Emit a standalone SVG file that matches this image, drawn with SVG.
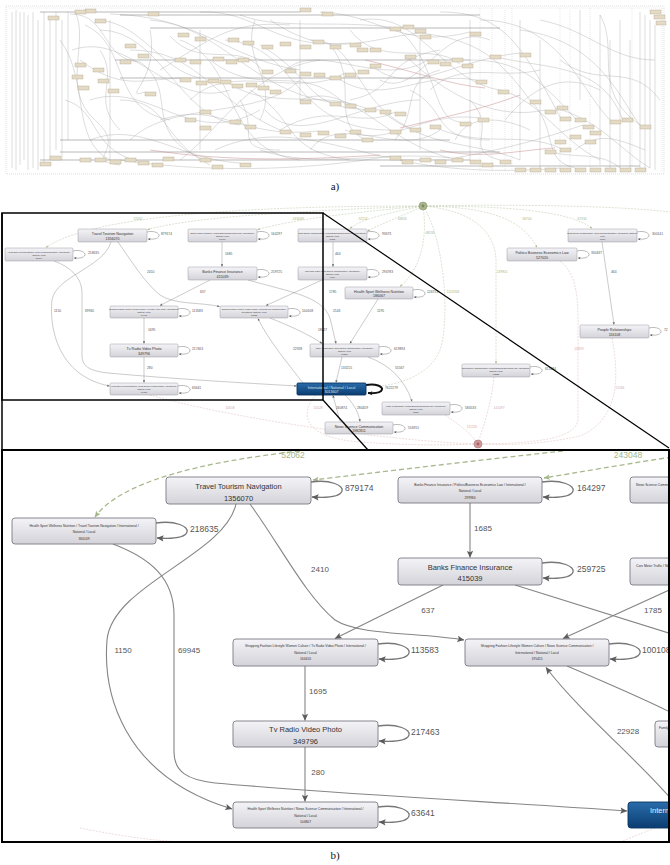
<svg xmlns="http://www.w3.org/2000/svg" width="670" height="865" viewBox="0 0 670 865">
<defs>
<linearGradient id="gNode" x1="0" y1="0" x2="0" y2="1"><stop offset="0" stop-color="#f4f3f7"/><stop offset="1" stop-color="#d4d3d9"/></linearGradient>
<linearGradient id="gBlue" x1="0" y1="0" x2="0" y2="1"><stop offset="0" stop-color="#2a6cab"/><stop offset="1" stop-color="#0b3d71"/></linearGradient>
<marker id="ah" viewBox="0 0 10 10" refX="9.5" refY="5" markerWidth="8" markerHeight="7" markerUnits="userSpaceOnUse" orient="auto"><path d="M0,0.5 L10,5 L0,9.5 L2,5 z" fill="#5c5c5c"/></marker>
<marker id="ahs" viewBox="0 0 10 10" refX="9.5" refY="5" markerWidth="3" markerHeight="2.6" markerUnits="userSpaceOnUse" orient="auto"><path d="M0,0.5 L10,5 L0,9.5 L2,5 z" fill="#5c5c5c"/></marker>
<marker id="ahk" viewBox="0 0 10 10" refX="9.5" refY="5" markerWidth="5" markerHeight="4.5" markerUnits="userSpaceOnUse" orient="auto"><path d="M0,0.5 L10,5 L0,9.5 L2,5 z" fill="#111"/></marker>
<marker id="ahg" viewBox="0 0 10 10" refX="9.5" refY="5" markerWidth="7" markerHeight="6" markerUnits="userSpaceOnUse" orient="auto"><path d="M0,0.5 L10,5 L0,9.5 L2,5 z" fill="#a3b586"/></marker>
<marker id="ahgs" viewBox="0 0 10 10" refX="9.5" refY="5" markerWidth="3" markerHeight="2.6" markerUnits="userSpaceOnUse" orient="auto"><path d="M0,0.5 L10,5 L0,9.5 L2,5 z" fill="#a3b586"/></marker>
<clipPath id="clipB"><rect x="3" y="451" width="666" height="390"/></clipPath>
<style>
.ae{fill:none;stroke:#a8a8a8;stroke-width:.4}
.av{fill:none;stroke:#c4c4c4;stroke-width:.4;stroke-dasharray:1 1}
.ak{fill:none;stroke:#8c8c8c;stroke-width:.6}
.ar{fill:none;stroke:#c98c8c;stroke-width:.5}
.an{fill:#e4dbc6;stroke:#ab9f82;stroke-width:.35}
.n{fill:url(#gNode);stroke:#7c7c84;stroke-width:.9}
.ns{fill:url(#gNode);stroke:#85858d;stroke-width:.4}
.nb{fill:url(#gBlue);stroke:#0a3461;stroke-width:.9}
.e{fill:none;stroke:#858585;stroke-width:1.1}
.es{fill:none;stroke:#8a8a8a;stroke-width:.45}
.lp{fill:none;stroke:#777;stroke-width:1.3}
.lps{fill:none;stroke:#777;stroke-width:.5}
.d{fill:none;stroke:#a8b98e;stroke-width:1.3;stroke-dasharray:5 3}
.ds{fill:none;stroke:#b7c5a2;stroke-width:.5;stroke-dasharray:2 1.2}
.dp{fill:none;stroke:#ddb9b9;stroke-width:.5;stroke-dasharray:2 1.2}
.t{font-family:"Liberation Sans",Arial,sans-serif;fill:#333;text-anchor:middle}
.tl{font-family:"Liberation Sans",Arial,sans-serif;fill:#555}
.tg{font-family:"Liberation Sans",Arial,sans-serif;fill:#a5b68a;text-anchor:middle}
.tp{font-family:"Liberation Sans",Arial,sans-serif;fill:#d5a9a9;text-anchor:middle}
.cap{font-family:"Liberation Serif","Times New Roman",serif;font-size:11px;fill:#111;text-anchor:middle}
.frame{fill:none;stroke:#000}
</style>
</defs>
<rect width="670" height="865" fill="#fff"/>

<!-- ===== Panel a) full graph ===== -->
<g id="panel-a">
<rect x="6" y="6" width="658" height="168" fill="none" stroke="#c8c8c8" stroke-width="0.6" stroke-dasharray="1 1"/>
<g id="a-edges">
<path class="av" d="M480,8 V172 M492,8 V172 M505,10 V172 M512,8 V170 M560,8 V172 M570,10 V170 M590,8 V172 M632,8 V172 M662,8 V172 M9,8 H662"/>
<path class="ae" d="M12,12 V168 M16,10 V170 M20,12 V165 M24,12 V160 M28,15 V170 M33,12 V168 M38,20 V170 M44,12 V165 M50,18 V160 M56,12 V150 M62,20 V160 M68,12 V140 M110,20 V160 M200,30 V150 M300,20 V100 M420,40 V150 M470,20 V160 M520,20 V160 M540,40 V170 M580,10 V100 M610,40 V170 M600,15 V165 M620,20 V168 M630,40 V170 M640,12 V170 M645,15 V170 M650,20 V168 M655,25 V170"/>
<path class="ae" d="M70,14 C110,14 100,60 140,62 M75,12 C90,40 60,90 95,120 S80,160 120,165 M95,20 C140,20 160,70 200,78 M100,30 C160,30 180,120 240,125 M110,14 C200,16 230,60 300,70 M130,50 C200,50 210,100 280,130 M140,62 C180,90 140,130 200,158 M150,20 C220,25 250,90 330,102 M170,36 C200,70 240,40 262,70 M180,40 C240,60 220,150 300,160 M200,12 C260,10 270,50 350,43 M210,60 C260,100 300,60 345,104 M225,40 C300,45 290,130 390,130 M240,15 C280,30 330,20 390,27 M250,90 C300,120 280,150 350,160 M260,45 C320,80 300,110 380,110 M270,20 C330,60 360,40 420,33 M285,70 C320,40 380,90 428,60 M300,100 C350,80 380,140 450,158 M310,40 C360,40 350,100 410,128 M320,12 C380,14 400,50 470,32 M335,76 C380,110 420,70 476,80 M345,130 C390,150 420,110 480,118 M360,20 C420,10 440,80 500,90 M370,64 C410,100 450,60 520,53 M380,110 C430,150 470,140 520,160 M395,27 C440,60 430,120 460,122 M405,55 C450,100 500,120 545,110 M420,33 C480,40 500,60 530,100 M430,125 C480,150 520,130 560,148 M440,12 C500,12 520,40 560,117 M455,158 C500,150 540,140 583,125 M470,60 C520,60 540,80 575,118 M480,20 C560,20 580,90 610,120 M490,55 C540,70 600,60 622,118 M500,90 C540,100 560,140 600,160 M520,30 C600,40 620,100 640,125 M530,100 C560,130 540,160 575,168 M545,150 C570,160 600,150 620,168 M555,108 C600,120 620,150 650,168 M60,40 C90,80 70,140 110,160 M65,100 C100,110 90,150 138,161 M80,60 C120,90 140,80 180,78 M90,140 C140,120 180,160 240,163 M120,100 C170,100 160,140 210,165 M160,120 C220,100 240,140 318,131 M190,100 C230,60 300,100 345,73 M215,150 C280,120 340,150 402,160 M260,150 C320,170 380,150 452,158 M230,84 C270,110 320,90 365,108 M280,130 C330,100 360,130 395,112 M120,160 C200,172 300,172 390,156 M150,30 C160,80 120,100 145,92 M330,45 C360,80 330,120 362,138 M400,160 C450,172 520,172 560,168 M600,15 C620,50 590,90 640,125 M560,60 C600,90 630,60 660,100 M470,100 C500,130 460,150 500,160 M85,25 C130,45 110,110 170,120 M240,100 C260,130 230,150 280,150 M350,100 C400,90 380,60 440,50 M410,90 C450,110 430,140 490,140 M160,70 C210,40 230,20 290,25 M540,20 C590,30 610,60 655,60 M72,50 C130,30 170,110 230,90 M90,100 C150,80 190,150 260,110 M130,140 C170,100 260,120 300,80 M180,160 C220,130 250,70 320,60 M265,110 C300,150 360,100 420,100 M310,150 C340,110 400,160 440,130 M350,30 C380,70 430,40 460,64 M380,80 C420,100 440,20 490,40 M430,90 C460,60 500,80 540,70 M455,140 C470,110 510,120 530,130 M100,50 C120,80 90,100 120,130 M255,20 C240,60 280,80 260,120 M395,140 C420,110 400,80 440,70 M505,120 C530,90 560,70 600,90 M575,150 C600,130 620,140 645,150"/>
<path class="ak" d="M40,12 H300 M120,15 H480 M150,28 H500 M115,60 H470 M120,78 H430 M60,140 H450 M60,152 H500 M40,160 H470 M380,166 H640"/>
<path class="ar" d="M365,60 C410,70 450,85 485,88 M400,128 C440,118 480,110 520,95 M150,150 C230,162 300,160 380,155 M440,150 C480,160 520,150 555,148"/>
</g>
<g id="a-nodes" class="an">
<rect x="85" y="9" width="11" height="4"/><rect x="148" y="12" width="11" height="4"/><rect x="300" y="8" width="11" height="4"/><rect x="322" y="12" width="11" height="4"/><rect x="75" y="10" width="11" height="4"/><rect x="48" y="16" width="11" height="4"/><rect x="95" y="19" width="11" height="4"/><rect x="120" y="60" width="11" height="4"/><rect x="75" y="63" width="11" height="4"/><rect x="72" y="75" width="11" height="4"/><rect x="78" y="86" width="11" height="4"/>
<rect x="125" y="44" width="11" height="4"/><rect x="138" y="54" width="11" height="4"/><rect x="175" y="58" width="11" height="4"/><rect x="190" y="60" width="11" height="4"/><rect x="213" y="57" width="11" height="4"/><rect x="226" y="60" width="11" height="4"/><rect x="238" y="58" width="11" height="4"/><rect x="178" y="33" width="11" height="4"/><rect x="195" y="37" width="11" height="4"/><rect x="228" y="38" width="11" height="4"/><rect x="243" y="41" width="11" height="4"/>
<rect x="262" y="45" width="11" height="4"/><rect x="280" y="42" width="11" height="4"/><rect x="300" y="45" width="11" height="4"/><rect x="313" y="40" width="11" height="4"/><rect x="330" y="45" width="11" height="4"/><rect x="350" y="43" width="11" height="4"/><rect x="357" y="48" width="11" height="4"/><rect x="370" y="48" width="11" height="4"/><rect x="390" y="27" width="11" height="4"/><rect x="403" y="25" width="11" height="4"/><rect x="415" y="29" width="11" height="4"/><rect x="420" y="35" width="11" height="4"/><rect x="470" y="32" width="11" height="4"/><rect x="490" y="55" width="11" height="4"/><rect x="520" y="53" width="11" height="4"/>
<rect x="93" y="68" width="11" height="4"/><rect x="98" y="79" width="11" height="4"/><rect x="108" y="89" width="11" height="4"/><rect x="145" y="92" width="11" height="4"/><rect x="180" y="78" width="11" height="4"/><rect x="196" y="81" width="11" height="4"/><rect x="208" y="79" width="11" height="4"/><rect x="220" y="80" width="11" height="4"/><rect x="232" y="84" width="11" height="4"/><rect x="246" y="83" width="11" height="4"/><rect x="258" y="86" width="11" height="4"/><rect x="270" y="90" width="11" height="4"/>
<rect x="262" y="70" width="11" height="4"/><rect x="285" y="69" width="11" height="4"/><rect x="300" y="72" width="11" height="4"/><rect x="314" y="73" width="11" height="4"/><rect x="330" y="76" width="11" height="4"/><rect x="345" y="73" width="11" height="4"/><rect x="358" y="70" width="11" height="4"/><rect x="370" y="64" width="11" height="4"/><rect x="405" y="55" width="11" height="4"/><rect x="428" y="60" width="11" height="4"/><rect x="440" y="62" width="11" height="4"/><rect x="452" y="58" width="11" height="4"/><rect x="462" y="64" width="11" height="4"/><rect x="476" y="80" width="11" height="4"/><rect x="498" y="90" width="11" height="4"/>
<rect x="300" y="100" width="11" height="4"/><rect x="330" y="102" width="11" height="4"/><rect x="345" y="104" width="11" height="4"/><rect x="365" y="108" width="11" height="4"/><rect x="380" y="110" width="11" height="4"/><rect x="395" y="112" width="11" height="4"/><rect x="200" y="110" width="11" height="4"/><rect x="185" y="118" width="11" height="4"/><rect x="200" y="126" width="11" height="4"/><rect x="230" y="120" width="11" height="4"/><rect x="245" y="125" width="11" height="4"/>
<rect x="280" y="130" width="11" height="4"/><rect x="300" y="133" width="11" height="4"/><rect x="318" y="131" width="11" height="4"/><rect x="335" y="134" width="11" height="4"/><rect x="350" y="130" width="11" height="4"/><rect x="362" y="138" width="11" height="4"/><rect x="390" y="130" width="11" height="4"/><rect x="410" y="128" width="11" height="4"/><rect x="430" y="125" width="11" height="4"/><rect x="460" y="122" width="11" height="4"/><rect x="478" y="118" width="11" height="4"/>
<rect x="530" y="100" width="11" height="4"/><rect x="545" y="110" width="11" height="4"/><rect x="557" y="106" width="11" height="4"/><rect x="560" y="117" width="11" height="4"/><rect x="575" y="118" width="11" height="4"/><rect x="583" y="125" width="11" height="4"/><rect x="590" y="131" width="11" height="4"/><rect x="570" y="135" width="11" height="4"/><rect x="555" y="140" width="11" height="4"/><rect x="545" y="150" width="11" height="4"/><rect x="560" y="148" width="11" height="4"/><rect x="585" y="140" width="11" height="4"/><rect x="610" y="120" width="11" height="4"/><rect x="622" y="118" width="11" height="4"/><rect x="640" y="125" width="11" height="4"/>
<rect x="50" y="156" width="11" height="4"/><rect x="40" y="162" width="11" height="4"/><rect x="80" y="158" width="11" height="4"/><rect x="95" y="158" width="11" height="4"/><rect x="110" y="160" width="11" height="4"/><rect x="125" y="158" width="11" height="4"/><rect x="138" y="161" width="11" height="4"/><rect x="152" y="163" width="11" height="4"/><rect x="163" y="157" width="11" height="4"/><rect x="200" y="158" width="11" height="4"/><rect x="212" y="165" width="11" height="4"/><rect x="240" y="163" width="11" height="4"/>
<rect x="390" y="156" width="11" height="4"/><rect x="402" y="160" width="11" height="4"/><rect x="420" y="158" width="11" height="4"/><rect x="435" y="160" width="11" height="4"/><rect x="452" y="158" width="11" height="4"/><rect x="470" y="160" width="11" height="4"/><rect x="482" y="163" width="11" height="4"/><rect x="500" y="160" width="11" height="4"/><rect x="515" y="168" width="11" height="4"/><rect x="530" y="168" width="11" height="4"/><rect x="545" y="168" width="11" height="4"/><rect x="560" y="168" width="11" height="4"/><rect x="575" y="168" width="11" height="4"/><rect x="590" y="168" width="11" height="4"/><rect x="605" y="168" width="11" height="4"/><rect x="620" y="168" width="11" height="4"/><rect x="635" y="168" width="11" height="4"/><rect x="650" y="10" width="11" height="4"/><rect x="654" y="15" width="11" height="4"/><rect x="656" y="21" width="10" height="4"/>
</g>
</g>
<text class="cap" x="335" y="190">a)</text>

<!-- ===== Middle overview ===== -->
<g id="overview">
<g id="ov-connectors">
<path class="ds" marker-end="url(#ahgs)" d="M423,206 C300,206 100,210 46,247.5"/>
<path class="ds" marker-end="url(#ahgs)" d="M423,206 C330,210 200,215 147.5,229.5"/>
<path class="ds" marker-end="url(#ahgs)" d="M423,206 C360,212 300,218 257.5,229.5"/>
<path class="ds" marker-end="url(#ahgs)" d="M423,206 C395,212 362,218 350,228.5"/>
<path class="ds" marker-end="url(#ahgs)" d="M423,206 C405,215 385,222 367.5,231"/>
<path class="ds" marker-end="url(#ahgs)" d="M423,206 C428,240 420,270 400,286.5"/>
<path class="ds" d="M423,206 C445,240 450,320 440,350 C430,375 400,384 380,386"/>
<path class="ds" marker-end="url(#ahgs)" d="M423,206 C470,210 495,230 496,260 L496,363.5"/>
<path class="ds" marker-end="url(#ahgs)" d="M423,206 C480,207 520,215 537,247.5"/>
<path class="ds" marker-end="url(#ahgs)" d="M423,206 C500,206 570,210 592,228.5"/>
<path class="ds" d="M423,206 C520,204 620,206 670,212"/>
<path class="dp" d="M150,395 C230,418 380,440 475,444"/>
<path class="dp" d="M316,395 C298,415 305,438 360,442 C420,446 450,445 475,444"/>
<path class="dp" d="M494,377 C492,400 484,425 479,440"/>
<path class="dp" d="M445,415 C460,425 470,433 476,441"/>
<path class="dp" d="M560,261 C574,272 578,290 578,320 L578,418 C578,438 540,443 482,444"/>
<path class="dp" d="M612,338 C620,380 618,420 580,436 C540,445 505,445 482,444"/>
<path class="es" marker-end="url(#ahs)" d="M222,242 V266.5"/>
<path class="es" marker-end="url(#ahs)" d="M333,242 V266.5"/>
<path class="es" marker-end="url(#ahs)" d="M602,242 L614,324.5"/>
<path class="es" marker-end="url(#ahs)" d="M210,280 L160,305.5"/>
<path class="es" marker-end="url(#ahs)" d="M322,280 L266,305.5"/>
<path class="es" marker-end="url(#ahs)" d="M248,280 C290,292 322,296 330,318 L336,343.5"/>
<path class="es" marker-end="url(#ahs)" d="M378,299 L350,343.5"/>
<path class="es" marker-end="url(#ahs)" d="M118,242 C132,262 145,283 160,295 C175,305 200,302 219.5,306.5"/>
<path class="es" marker-end="url(#ahs)" d="M111,242 C103,268 56,276 52,300 C49,328 58,376 109.5,386"/>
<path class="es" marker-end="url(#ahs)" d="M54,261 C68,266 82,276 82,293 L82,355 C82,368 92,371 108,373 C175,379 245,383 296.5,386"/>
<path class="es" marker-end="url(#ahs)" d="M144,318 V343.5"/>
<path class="es" marker-end="url(#ahs)" d="M144,357 V382.5"/>
<path class="es" marker-end="url(#ahs)" d="M303,383 C290,366 268,340 258,318.5"/>
<path class="es" marker-end="url(#ahs)" d="M270,318 C290,326 310,335 322,343.5"/>
<path class="es" marker-end="url(#ahs)" d="M342,357 L336,382.5"/>
<path class="es" marker-end="url(#ahs)" d="M368,357 C390,365 405,380 412,401.5"/>
<path class="es" marker-end="url(#ahs)" d="M340,421.5 L333,395.5"/>
<path class="es" marker-end="url(#ahs)" d="M345,395 C352,402 358,410 360,421.5"/>
<path class="lps" marker-end="url(#ahs)" d="M73,251 C81,249 86,253 85,255 C84,258 79,258.5 74,258"/>
<path class="lps" marker-end="url(#ahs)" d="M147,232 C155,230 160,234 159,236 C158,239 153,239.5 148,239"/>
<path class="lps" marker-end="url(#ahs)" d="M257,232 C265,230 270,234 269,236 C268,239 263,239.5 258,239"/>
<path class="lps" marker-end="url(#ahs)" d="M367,232 C375,230 380,234 379,236 C378,239 373,239.5 368,239"/>
<path class="lps" marker-end="url(#ahs)" d="M257,270 C265,268 270,272 269,274 C268,277 263,277.5 258,277"/>
<path class="lps" marker-end="url(#ahs)" d="M367,270 C375,268 380,272 379,274 C378,277 373,277.5 368,277"/>
<path class="lps" marker-end="url(#ahs)" d="M413,290 C421,288 426,292 425,294 C424,297 419,297.5 414,297"/>
<path class="lps" marker-end="url(#ahs)" d="M178,309 C186,307 191,311 190,313 C189,316 184,316.5 179,316"/>
<path class="lps" marker-end="url(#ahs)" d="M288,309 C296,307 301,311 300,313 C299,316 294,316.5 289,316"/>
<path class="lps" marker-end="url(#ahs)" d="M178,347 C186,345 191,349 190,351 C189,354 184,354.5 179,354"/>
<path class="lps" marker-end="url(#ahs)" d="M178,386 C186,384 191,388 190,390 C189,393 184,393.5 179,393"/>
<path class="lps" marker-end="url(#ahs)" d="M379,347 C387,345 392,349 391,351 C390,354 385,354.5 380,354"/>
<path class="lps" marker-end="url(#ahs)" d="M450,405 C458,403 463,407 462,409 C461,412 456,412.5 451,412"/>
<path class="lps" marker-end="url(#ahs)" d="M577,251 C585,249 590,253 589,255 C588,258 583,258.5 578,258"/>
<path class="lps" marker-end="url(#ahs)" d="M637,232 C645,230 650,234 649,236 C648,239 643,239.5 638,239"/>
<path class="lps" marker-end="url(#ahs)" d="M649,328 C657,326 662,330 661,332 C660,335 655,335.5 650,335"/>
<path class="lps" marker-end="url(#ahs)" d="M530,367 C538,365 543,369 542,371 C541,374 536,374.5 531,374"/>
<path class="lps" marker-end="url(#ahs)" d="M393,425 C401,423 406,427 405,429 C404,432 399,432.5 394,432"/>
<path fill="none" stroke="#111" stroke-width="2" marker-end="url(#ahk)" d="M366,385 C376,383 383,387 382,389.5 C381,393 375,393.5 368,393"/>
<g class="tl" font-size="3.3">
<text x="225" y="254.5">1685</text><text x="335" y="254.5">464</text><text x="611" y="273">464</text>
<text x="200" y="293">637</text><text x="329" y="293">1785</text><text x="333" y="312">2543</text><text x="377" y="312">1195</text>
<text x="147" y="273">2410</text><text x="54" y="312">1150</text><text x="85" y="312">69945</text>
<text x="148" y="331">1695</text><text x="147" y="369">280</text><text x="293" y="350">22928</text><text x="318" y="331">18027</text>
<text x="341" y="369">133215</text><text x="395" y="369">55567</text><text x="336" y="409">260874</text><text x="357" y="409">284459</text>
<text x="88" y="254">218635</text><text x="161" y="235">879174</text><text x="271" y="235">164297</text><text x="382" y="235">93673</text>
<text x="271" y="273">259725</text><text x="382" y="273">294783</text><text x="427" y="293">126713</text>
<text x="192" y="312">113583</text><text x="302" y="312">100108</text><text x="192" y="350">217463</text><text x="192" y="389">63641</text>
<text x="394" y="350">619894</text><text x="465" y="409">584533</text><text x="591" y="254">330437</text><text x="652" y="235">300141</text>
<text x="664" y="331">72</text><text x="545" y="370">613284</text><text x="408" y="429">556915</text>
<text x="385" y="389">7622279</text>
</g>
<g class="tg" font-size="3.3">
<text x="138" y="219.5">52062</text><text x="298" y="219.5">243048</text><text x="363" y="219.5">52214</text><text x="402" y="219.5">10826</text>
<text x="430" y="234">48192</text><text x="453" y="293">1113318</text><text x="502" y="273">139901</text><text x="527" y="219.5">66700</text><text x="582" y="219.5">67334</text>
</g>
<g class="tp" font-size="3.3">
<text x="230" y="409">10618</text><text x="318" y="409">10528</text><text x="499" y="409">141097</text><text x="472" y="428">111135</text>
<text x="579" y="350">05859</text><text x="620" y="389">21184</text>
</g>
</g>
<g id="ov-nodes">
<g id="ov-root"><circle cx="423" cy="206" r="4" fill="#a9b48c" stroke="#8c9872" stroke-width=".6"/><circle cx="423" cy="206" r="1.4" fill="#7f8a64"/></g>
<g id="ov-sink"><circle cx="478" cy="444" r="4" fill="#cf9a9a" stroke="#b27474" stroke-width=".6"/><circle cx="478" cy="444" r="1.4" fill="#a86464"/></g>
<g id="ov-n1"><rect class="ns" x="5" y="248" width="68" height="13" rx="1.2"/><g class="t" font-size="1.9"><text x="39" y="252.5">Health Sport Wellness Nutrition / Travel Tourism Navigation / International /</text><text x="39" y="255.5">National / Local</text><text x="39" y="258.5">366149</text></g></g>
<g id="ov-n2"><rect class="ns" x="78" y="229" width="69" height="13" rx="1.2"/><g class="t" font-size="3.6"><text x="112.5" y="235">Travel Tourism Navigation</text><text x="112.5" y="239.5">1356070</text></g></g>
<g id="ov-n3"><rect class="ns" x="188" y="229" width="69" height="13" rx="1.2"/><g class="t" font-size="1.9"><text x="222.5" y="233.5">Banks Finance Insurance / Politics Business Economics Law / International /</text><text x="222.5" y="236.5">National / Local</text><text x="222.5" y="239.5">299984</text></g></g>
<g id="ov-n4"><rect class="ns" x="298" y="229" width="69" height="13" rx="1.2"/><g class="t" font-size="1.9"><text x="332.5" y="233.5">News Science Communication / Politics Business Economics Law / International /</text><text x="332.5" y="236.5">National / Local</text><text x="332.5" y="239.5">86865</text></g></g>
<g id="ov-n5"><rect class="ns" x="188" y="267" width="69" height="13" rx="1.2"/><g class="t" font-size="3.6"><text x="222.5" y="273">Banks Finance Insurance</text><text x="222.5" y="277.5">415039</text></g></g>
<g id="ov-n6"><rect class="ns" x="298" y="267" width="69" height="13" rx="1.2"/><g class="t" font-size="1.9"><text x="332.5" y="271.5">Cars Motor Traffic / News Science Communication / International /</text><text x="332.5" y="274.5">National / Local</text><text x="332.5" y="277.5">66104</text></g></g>
<g id="ov-n7"><rect class="ns" x="345" y="287" width="68" height="12" rx="1.2"/><g class="t" font-size="3.6"><text x="379" y="292.5">Health Sport Wellness Nutrition</text><text x="379" y="297">186067</text></g></g>
<g id="ov-n8"><rect class="ns" x="110" y="306" width="68" height="12" rx="1.2"/><g class="t" font-size="1.9"><text x="144" y="310">Shopping Fashion Lifestyle Women Culture / Tv Radio Video Photo / International /</text><text x="144" y="313">National / Local</text><text x="144" y="316">164416</text></g></g>
<g id="ov-n9"><rect class="ns" x="220" y="306" width="68" height="12" rx="1.2"/><g class="t" font-size="1.9"><text x="254" y="310">Shopping Fashion Lifestyle Women Culture / News Science Communication /</text><text x="254" y="313">International / National / Local</text><text x="254" y="316">195455</text></g></g>
<g id="ov-n10"><rect class="ns" x="110" y="344" width="68" height="13" rx="1.2"/><g class="t" font-size="3.6"><text x="144" y="350">Tv Radio Video Photo</text><text x="144" y="354.5">349796</text></g></g>
<g id="ov-n11"><rect class="ns" x="110" y="383" width="68" height="12" rx="1.2"/><g class="t" font-size="1.9"><text x="144" y="387">Health Sport Wellness Nutrition / News Science Communication / International /</text><text x="144" y="390">National / Local</text><text x="144" y="393">104807</text></g></g>
<g id="ov-n12"><rect class="nb" x="297" y="383" width="69" height="12" rx="1.2" stroke-width=".4"/><g class="t" font-size="3.6"><text x="331.5" y="388.5" fill="#dbe6f2">International / National / Local</text><text x="331.5" y="393" fill="#dbe6f2">3013607</text></g></g>
<g id="ov-n13"><rect class="ns" x="310" y="344" width="69" height="13" rx="1.2"/><g class="t" font-size="1.9"><text x="344.5" y="348.5">Family Relationships / News Science Communication / International /</text><text x="344.5" y="351.5">National / Local</text><text x="344.5" y="354.5">843151</text></g></g>
<g id="ov-n14"><rect class="ns" x="382" y="402" width="68" height="13" rx="1.2"/><g class="t" font-size="1.9"><text x="416" y="406.5">Family Relationships / Politics Business Economics Law / International /</text><text x="416" y="409.5">National / Local</text><text x="416" y="412.5">88180</text></g></g>
<g id="ov-n15"><rect class="ns" x="507" y="248" width="70" height="13" rx="1.2"/><g class="t" font-size="3.6"><text x="542" y="254">Politics Business Economics Law</text><text x="542" y="258.5">527020</text></g></g>
<g id="ov-n16"><rect class="ns" x="568" y="229" width="69" height="13" rx="1.2"/><g class="t" font-size="1.9"><text x="602.5" y="233.5">News Science Communication / Travel Tourism Navigation / International / National /</text><text x="602.5" y="236.5">Local</text><text x="602.5" y="239.5">16171</text></g></g>
<g id="ov-n17"><rect class="ns" x="580" y="325" width="69" height="13" rx="1.2"/><g class="t" font-size="3.6"><text x="614.5" y="331">People Relationships</text><text x="614.5" y="335.5">116108</text></g></g>
<g id="ov-n18"><rect class="ns" x="462" y="364" width="68" height="13" rx="1.2"/><g class="t" font-size="1.9"><text x="496" y="368.5">News Science Communication / Politics Business Economics Law / International /</text><text x="496" y="371.5">National / Local</text><text x="496" y="374.5">155385</text></g></g>
<g id="ov-n19"><rect class="ns" x="325" y="422" width="68" height="12" rx="1.2"/><g class="t" font-size="3.6"><text x="359" y="427.5">News Science Communication</text><text x="359" y="432">1982811</text></g></g>
</g>
</g>

<g id="frames">
<rect class="frame" x="2" y="213" width="321" height="187" stroke-width="1.5"/>
<line x1="2" y1="213" x2="2" y2="450" stroke="#000" stroke-width="1.5"/>
<line x1="323" y1="213" x2="669" y2="448" stroke="#000" stroke-width="1.2"/>
<line x1="323" y1="400" x2="368" y2="450" stroke="#000" stroke-width="1.2"/>
</g>

<!-- ===== Bottom magnified panel ===== -->
<g id="detail" clip-path="url(#clipB)">
<g id="detail-connectors">
<path class="d" marker-end="url(#ahg)" d="M300,451 C200,462 120,482 95,517"/>
<path class="d" marker-end="url(#ahg)" d="M563,451 C480,460 380,472 313,480"/>
<path class="d" marker-end="url(#ahg)" d="M672,457 C620,465 580,472 544,478"/>
<path class="e" marker-end="url(#ah)" d="M470,503 L470,557.5"/>
<path class="e" marker-end="url(#ah)" d="M443,585 L335,638.5"/>
<path class="e" d="M515,585 L672,634"/>
<path class="e" marker-end="url(#ah)" d="M680,585 L563,638.5"/>
<path class="e" marker-end="url(#ah)" d="M250,504 C280,545 305,595 335,620 C360,636 420,632 464,640"/>
<path class="e" marker-end="url(#ah)" d="M236,504 C225,555 112,585 107,640 C103,690 120,775 232,809"/>
<path class="e" marker-end="url(#ah)" d="M113,544 C150,558 174,578 174,615 L174,752 C174,772 188,780 215,783 C350,795 500,802 627,811"/>
<path class="e" marker-end="url(#ah)" d="M305,666 L305,720.5"/>
<path class="e" marker-end="url(#ah)" d="M305,747 L305,801.5"/>
<path class="e" marker-end="url(#ah)" d="M672,800 C640,762 580,712 546,667.5"/>
<path class="e" d="M567,666 C600,680 640,697 672,713"/>
<path class="dp" stroke-width="1" d="M80,828 C120,836 150,840 180,842 M620,842 C640,834 660,826 670,822"/>
<path class="lp" marker-end="url(#ah)" d="M156,523 C176,520 189,527 187,532 C185,538 172,539 157,538"/>
<path class="lp" marker-end="url(#ah)" d="M311,482 C331,479 344,486 342,491 C340,497 327,498 312,497"/>
<path class="lp" marker-end="url(#ah)" d="M542,482 C562,479 575,486 573,491 C571,497 558,498 543,497"/>
<path class="lp" marker-end="url(#ah)" d="M542,563 C562,560 575,567 573,572 C571,578 558,579 543,578"/>
<path class="lp" marker-end="url(#ah)" d="M378,644 C398,641 411,648 409,653 C407,659 394,660 379,659"/>
<path class="lp" marker-end="url(#ah)" d="M609,644 C629,641 642,648 640,653 C638,659 625,660 610,659"/>
<path class="lp" marker-end="url(#ah)" d="M378,726 C398,723 411,730 409,735 C407,741 394,742 379,741"/>
<path class="lp" marker-end="url(#ah)" d="M378,807 C398,804 411,811 409,816 C407,822 394,823 379,822"/>
<g class="tl" font-size="8" text-anchor="middle">
<text x="320" y="572">2410</text><text x="483" y="531">1685</text><text x="428" y="613">637</text><text x="653" y="613">1785</text>
<text x="123" y="653">1150</text><text x="189" y="653">69945</text><text x="318" y="694">1695</text><text x="318" y="775">280</text><text x="628" y="734">22928</text>
</g>
<g class="tl" font-size="8.5">
<text x="190" y="532">218635</text><text x="345" y="491">879174</text><text x="577" y="491">164297</text><text x="577" y="572">259725</text>
<text x="411" y="653">113583</text><text x="642" y="653">100108</text><text x="411" y="735">217463</text><text x="411" y="816">63641</text>
</g>
<g class="tg" font-size="8.5"><text x="293" y="458">52062</text><text x="628" y="458">243048</text></g>
</g>
<g id="detail-nodes">
<g id="d-hs-ttn"><rect class="n" x="12" y="518" width="144" height="26" rx="3"/><g class="t" font-size="3.3"><text x="84" y="526.5">Health Sport Wellness Nutrition / Travel Tourism Navigation / International /</text><text x="84" y="533">National / Local</text><text x="84" y="539.5">366149</text></g></g>
<g id="d-ttn"><rect class="n" x="166" y="477" width="145" height="27" rx="3"/><g class="t" font-size="7.5"><text x="238.5" y="489">Travel Tourism Navigation</text><text x="238.5" y="500.5">1356070</text></g></g>
<g id="d-banks-pol"><rect class="n" x="398" y="477" width="144" height="26" rx="3"/><g class="t" font-size="3.3"><text x="470" y="485.5">Banks Finance Insurance / Politics/Business Economics Law / International /</text><text x="470" y="492">National / Local</text><text x="470" y="498.5">299984</text></g></g>
<g id="d-news-pol"><rect class="n" x="630" y="477" width="144" height="26" rx="3"/><g class="t" font-size="3.3"><text x="636" y="485.5" text-anchor="start">News Science Communication / Politics Business Economics Law / International /</text></g></g>
<g id="d-banks"><rect class="n" x="398" y="558" width="144" height="27" rx="3"/><g class="t" font-size="7.5"><text x="470" y="569.5">Banks Finance Insurance</text><text x="470" y="581">415039</text></g></g>
<g id="d-cars"><rect class="n" x="630" y="558" width="144" height="27" rx="3"/><g class="t" font-size="3.3"><text x="636" y="567" text-anchor="start">Cars Motor Traffic / News Science Communication / International /</text></g></g>
<g id="d-shop-tv"><rect class="n" x="233" y="639" width="145" height="27" rx="3"/><g class="t" font-size="3.3"><text x="305.5" y="647">Shopping Fashion Lifestyle Women Culture / Tv Radio Video Photo / International /</text><text x="305.5" y="653.5">National / Local</text><text x="305.5" y="660">164416</text></g></g>
<g id="d-shop-news"><rect class="n" x="465" y="639" width="144" height="27" rx="3"/><g class="t" font-size="3.3"><text x="537" y="647">Shopping Fashion Lifestyle Women Culture / News Science Communication /</text><text x="537" y="653.5">International / National / Local</text><text x="537" y="660">195455</text></g></g>
<g id="d-tv"><rect class="n" x="233" y="721" width="145" height="26" rx="3"/><g class="t" font-size="7.5"><text x="305.5" y="732">Tv Radio Video Photo</text><text x="305.5" y="743.5">349796</text></g></g>
<g id="d-family"><rect class="n" x="655" y="721" width="144" height="26" rx="3"/><g class="t" font-size="3.3"><text x="659" y="729" text-anchor="start">Family Relationships / News Science Communication / International /</text></g></g>
<g id="d-hs-news"><rect class="n" x="233" y="802" width="145" height="26" rx="3"/><g class="t" font-size="3.3"><text x="305.5" y="810">Health Sport Wellness Nutrition / News Science Communication / International /</text><text x="305.5" y="816.5">National / Local</text><text x="305.5" y="823">104807</text></g></g>
<g id="d-intl"><rect class="nb" x="628" y="802" width="144" height="26" rx="3"/><g class="t" font-size="7.5"><text x="650" y="813" fill="#e4ecf5" text-anchor="start">International / National / Local</text></g></g>
</g>
</g>
<rect class="frame" x="2" y="450" width="667" height="392" stroke-width="2"/>
<text class="cap" x="335" y="859">b)</text>
</svg>
